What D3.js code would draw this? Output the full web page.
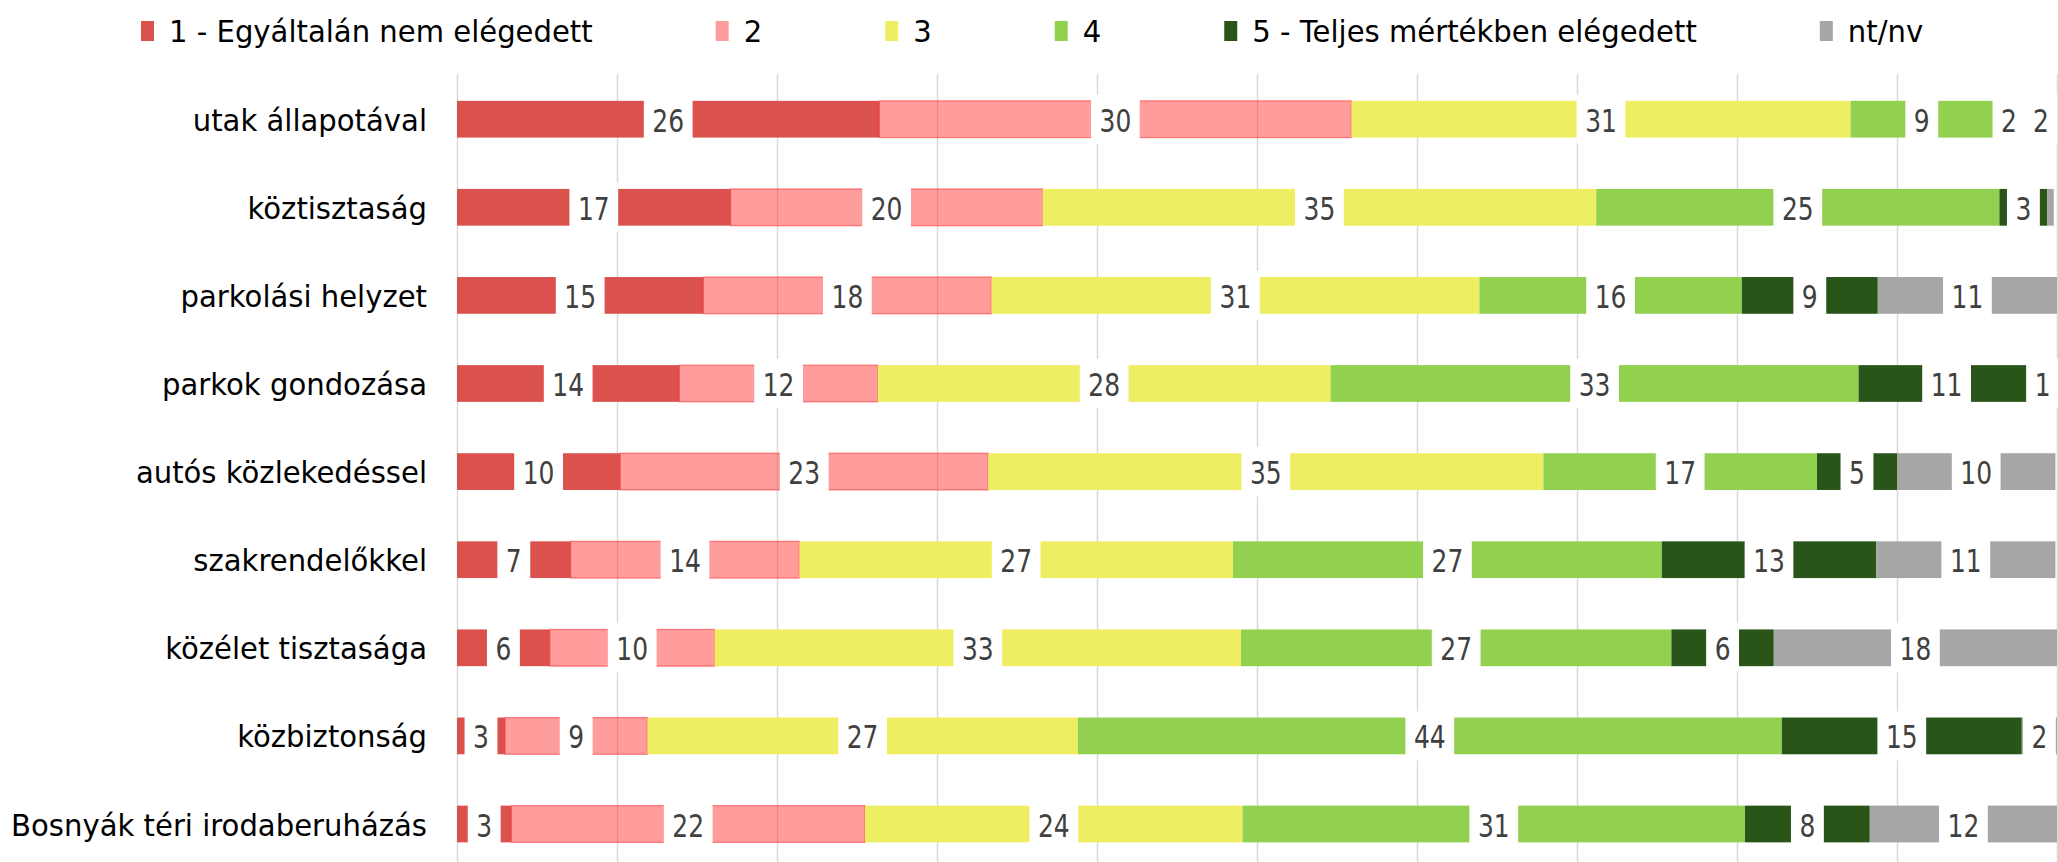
<!DOCTYPE html>
<html>
<head>
<meta charset="utf-8">
<script src="https://cdn.jsdelivr.net/npm/d3@7"></script>
<style>
  html, body { margin: 0; padding: 0; background: #ffffff; overflow: hidden; }
  svg { display: block; }
  text { font-family: "DejaVu Sans", Verdana, sans-serif; }
</style>
</head>
<body>
<svg id="chart" width="2058" height="862"></svg>
<script>
// ---- data ----
const categories = [
  "utak állapotával",
  "köztisztaság",
  "parkolási helyzet",
  "parkok gondozása",
  "autós közlekedéssel",
  "szakrendelőkkel",
  "közélet tisztasága",
  "közbiztonság",
  "Bosnyák téri irodaberuházás"
];
const seriesNames = ["1 - Egyáltalán nem elégedett", "2", "3", "4", "5 - Teljes mértékben elégedett", "nt/nv"];
const s1 = [26.4, 17.1, 15.4, 13.9, 10.2, 7.1, 5.8, 3.0, 3.4];
const s2 = [29.5, 19.5, 18.0, 12.4, 23.0, 14.3, 10.3, 8.9, 22.1];
const s3 = [31.2, 34.6, 30.5, 28.3, 34.7, 27.1, 32.9, 26.9, 23.6];
const s4 = [8.9, 25.2, 16.4, 33.0, 17.1, 26.8, 26.9, 44.0, 31.4];
const s5 = [2.0, 3.0, 8.5, 11.0, 5.0, 13.4, 6.4, 15.0, 7.8];
const ntnv = [2.0, 0.4, 11.2, 1.0, 9.9, 11.2, 17.7, 2.2, 11.7];
const xTicks = [0, 10, 20, 30, 40, 50, 60, 70, 80, 90, 100];

// ---- styles ----
const colors = ["#DB514D", "rgba(255,60,60,0.5)", "#EEEE62", "#92D050", "#2A5519", "#A6A6A6"];
const legendColors = ["#DB514D", "#FF9D9D", "#EEEE62", "#92D050", "#2A5519", "#A6A6A6"];
const strokes = ["none", "rgba(255,40,40,0.55)", "none", "none", "none", "none"];

const seriesData = [s1, s2, s3, s4, s5, ntnv];
const rows = categories.map((c, i) => {
  const r = { cat: c };
  seriesNames.forEach((k, j) => r[k] = seriesData[j][i]);
  return r;
});

const svg = d3.select("#chart");
svg.append("rect").attr("width", 2058).attr("height", 862).attr("fill", "#fff");

const x = d3.scaleLinear().domain([0, 100]).range([457, 2057]);
const y = d3.scaleBand().domain(categories).range([75.15, 868.05])
  .paddingInner(0.583).paddingOuter(0.2915);

// gridlines
const gridTop = 74, gridBottom = 870;
const grid = svg.append("g").attr("transform", `translate(0,${gridTop})`)
  .call(d3.axisBottom(x).tickValues(xTicks).tickSize(gridBottom - gridTop).tickFormat(""));
grid.select(".domain").remove();
grid.selectAll(".tick line").attr("stroke", "#D9D9D9").attr("stroke-width", 1.5);

// stacked bars
const stack = d3.stack().keys(seriesNames);
const stacked = stack(rows);

const barG = svg.append("g");
stacked.forEach((layer, j) => {
  barG.append("g")
    .selectAll("rect")
    .data(layer)
    .join("rect")
    .attr("x", d => x(d[0]))
    .attr("y", d => y(d.data.cat))
    .attr("width", d => x(d[1]) - x(d[0]))
    .attr("height", y.bandwidth())
    .attr("fill", colors[j])
    .attr("stroke", strokes[j])
    .attr("stroke-width", strokes[j] === "none" ? 0 : 1.2);
});

// data labels with white boxes
const labelSX = 0.78, labelSize = 32;
const labG = svg.append("g");
stacked.forEach((layer, j) => {
  layer.forEach(d => {
    const v = Math.round(d[1] - d[0]);
    if (v <= 0) return;
    const cx = x((d[0] + d[1]) / 2);
    const cy = y(d.data.cat) + y.bandwidth() / 2;
    const g = labG.append("g");
    const box = g.append("rect").attr("fill", "#fff");
    const t = g.append("text")
      .attr("transform", `translate(${cx},${cy + 12.5}) scale(${labelSX},1)`)
      .attr("text-anchor", "middle")
      .attr("font-size", labelSize)
      .attr("fill", "#404040")
      .text(v);
    const w = t.node().getComputedTextLength() * labelSX + 17;
    box.attr("x", cx - w / 2).attr("y", cy - 24.5).attr("width", w).attr("height", 49);
  });
});

// category labels
const catSX = 0.97;
svg.append("g").selectAll("text")
  .data(categories)
  .join("text")
  .attr("transform", d => `translate(427,${y(d) + y.bandwidth() / 2 + 11.5}) scale(${catSX},1)`)
  .attr("text-anchor", "end")
  .attr("font-size", 30)
  .attr("fill", "#000")
  .text(d => d);

// legend
const legSX = 0.97;
const leg = svg.append("g");
let lx = 141;
seriesNames.forEach((name, j) => {
  leg.append("rect").attr("x", lx).attr("y", 21).attr("width", 13).attr("height", 20)
    .attr("fill", legendColors[j]);
  const t = leg.append("text")
    .attr("transform", `translate(${lx + 28},41.5) scale(${legSX},1)`)
    .attr("font-size", 30)
    .attr("fill", "#000")
    .text(name);
  const w = t.node().getComputedTextLength() * legSX;
  lx = lx + 28 + w + 123;
});
</script>
</body>
</html>
